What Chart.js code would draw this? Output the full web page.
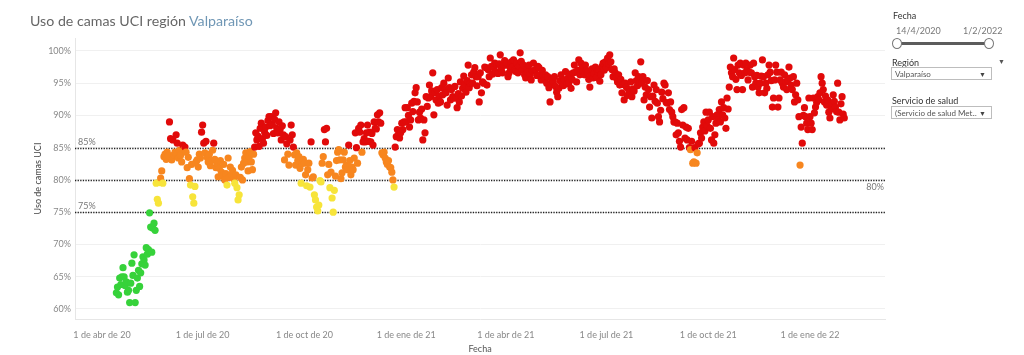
<!DOCTYPE html>
<html>
<head>
<meta charset="utf-8">
<script src="https://cdn.jsdelivr.net/npm/chart.js@4.4.0/dist/chart.umd.min.js"></script>
<style>
  html, body { margin: 0; padding: 0; background: #fff; }
  body { width: 1024px; height: 355px; position: relative; overflow: hidden; font-family: Lato, 'Open Sans', sans-serif; }
  #wrap { position: absolute; left: 0; top: 0; width: 1024px; height: 355px; }
  .title { position: absolute; left: 30px; top: 12px; font-size: 14.2px; color: #666; white-space: nowrap; }
  .title span { color: #7097b5; }
  .lbl { position: absolute; font-size: 9px; line-height: 11px; color: #333; white-space: nowrap; }
  .muted { color: #777; }
  .track { position: absolute; left: 897px; top: 42px; width: 91px; height: 3px; background: #5c5c5c; }
  .knob { position: absolute; top: 38px; width: 8px; height: 9px; border: 1px solid #777; border-radius: 50%; background: #fff; }
  .box { position: absolute; left: 891px; width: 101px; height: 13px; border: 1px solid #bdbdbd; font-size: 8px; line-height: 12px; color: #555; padding-left: 3px; box-sizing: border-box; white-space: nowrap; overflow: hidden; }
  .box i { position: absolute; right: 5px; top: 0; font-style: normal; font-size: 7px; color: #444; background: #fff; padding-left: 2px; }
</style>
</head>
<body>
<div id="wrap"><canvas id="ucsChart"></canvas></div>

<div class="title">Uso de camas UCI región <span>Valparaíso</span></div>

<div class="lbl" style="left:893px; top:10px;">Fecha</div>
<div class="lbl muted" style="left:896px; top:25px;">14/4/2020</div>
<div class="lbl muted" style="left:963px; top:25px;">1/2/2022</div>
<div class="track"></div>
<div class="knob" style="left:892px;"></div>
<div class="knob" style="left:984px;"></div>

<div class="lbl" style="left:892px; top:57px;">Región</div>
<div class="lbl" style="left:998px; top:56px; font-size:7px; color:#555;">▼</div>
<div class="box" style="top:67px;">Valparaíso<i>▼</i></div>

<div class="lbl" style="left:892px; top:95px;">Servicio de salud</div>
<div class="box" style="top:106px;">(Servicio de salud Met...<i>▼</i></div>

<script>
// ICU bed occupancy (%), one value per day, grouped by month
const abr20 = [62.5, 63.4, 62.2, 64.8, 63.8, 65.0, 66.4, 65.0, 63.6, 64.2, 62.6, 62.9, 61.0, 64.0, 67.1, 65.2, 68.4];
const may20 = [61.0, 62.9, 64.8, 66.0, 63.5, 65.6, 67.0, 68.1, 67.6, 66.8, 69.5, 68.5, 69.2, 74.9, 72.7, 68.8, 72.5, 73.3, 72.2, 79.5, 77.0, 76.4, 79.6, 80.3, 81.4, 79.5, 83.6, 84.0, 83.2, 84.3, 83.8];
const jun20 = [89.0, 86.4, 83.1, 86.2, 83.9, 84.3, 87.0, 85.7, 83.4, 84.6, 83.8, 82.8, 85.4, 84.7, 85.1, 84.3, 81.9, 83.5, 80.2, 79.2, 82.4, 77.4, 76.4, 79.0, 82.8, 83.1, 82.0, 84.0, 83.4, 87.4];
const jul20 = [88.5, 85.7, 84.2, 86.0, 83.5, 82.8, 84.0, 82.2, 83.0, 84.6, 85.7, 83.2, 81.9, 82.6, 80.5, 81.8, 83.0, 81.2, 80.6, 82.4, 80.0, 81.0, 79.2, 83.4, 80.4, 82.0, 80.8, 81.5, 80.2, 79.5, 80.8];
const ago20 = [78.8, 76.9, 77.7, 80.4, 82.0, 80.0, 82.6, 83.4, 84.2, 82.8, 81.4, 83.6, 84.4, 82.8, 81.6, 84.0, 85.1, 87.3, 86.2, 86.8, 85.2, 88.0, 88.8, 86.4, 85.7, 87.4, 88.2, 86.9, 89.2, 89.8, 88.4];
const sep20 = [89.8, 88.6, 87.2, 89.4, 90.4, 88.0, 87.3, 89.0, 87.8, 86.2, 88.4, 87.0, 83.1, 86.7, 85.6, 84.0, 82.3, 86.2, 88.5, 87.0, 85.1, 83.9, 82.3, 84.2, 83.0, 83.6, 81.8, 79.5, 82.6, 83.2];
const oct20 = [82.6, 80.8, 79.1, 81.6, 82.6, 78.9, 85.9, 80.3, 80.5, 77.7, 76.9, 75.8, 75.2, 76.1, 79.9, 79.7, 82.6, 83.6, 87.8, 85.9, 88.0, 80.8, 82.4, 78.8, 81.2, 77.2, 75.0, 78.4, 80.6, 83.0, 84.3];
const nov20 = [84.7, 83.1, 80.2, 81.1, 83.1, 84.3, 82.0, 82.3, 81.6, 85.4, 83.0, 80.8, 82.0, 81.6, 83.4, 87.3, 85.0, 82.6, 88.0, 87.4, 88.5, 84.3, 85.9, 86.4, 85.9, 87.3, 88.5, 86.0, 87.4, 85.9];
const dic20 = [87.2, 85.4, 89.0, 88.0, 87.9, 90.1, 89.0, 90.4, 88.8, 84.2, 83.9, 84.3, 83.4, 82.8, 82.4, 83.0, 82.0, 81.9, 81.2, 80.0, 78.9, 85.1, 86.7, 87.8, 87.0, 86.5, 87.3, 88.8, 87.8, 89.0, 91.2];
const ene21 = [89.0, 91.2, 90.0, 88.2, 89.3, 91.9, 90.6, 92.2, 93.5, 94.3, 92.1, 89.3, 90.5, 89.6, 91.0, 86.2, 89.3, 87.3, 92.9, 91.4, 92.7, 94.7, 92.9, 93.8, 96.6, 90.1, 93.5, 92.4, 94.0, 91.9, 93.0];
const feb21 = [92.1, 94.3, 93.2, 95.0, 94.0, 93.5, 91.6, 95.8, 94.3, 92.4, 94.0, 92.9, 92.7, 94.5, 92.7, 91.2, 93.4, 92.1, 95.2, 93.0, 94.2, 96.1, 94.8, 93.6, 95.4, 97.8, 94.3, 95.0];
const mar21 = [96.3, 95.0, 96.7, 97.4, 96.0, 94.6, 96.0, 92.1, 96.6, 93.5, 95.2, 95.0, 97.5, 97.4, 94.7, 97.1, 96.0, 98.9, 97.6, 96.4, 97.4, 98.1, 96.8, 97.9, 96.5, 98.0, 99.4, 97.2, 96.6, 97.8, 98.5];
const abr21 = [97.8, 98.1, 96.0, 96.6, 97.4, 98.3, 97.5, 98.6, 97.0, 96.8, 98.1, 96.6, 97.6, 99.7, 98.4, 97.0, 97.8, 96.3, 95.8, 97.2, 96.7, 97.8, 96.4, 95.5, 96.9, 98.1, 97.0, 97.1, 96.2, 97.6];
const may21 = [97.4, 96.3, 95.5, 97.0, 96.2, 95.8, 96.3, 95.0, 96.0, 94.3, 92.1, 94.8, 95.6, 95.2, 96.0, 94.5, 93.6, 92.9, 94.2, 95.4, 96.3, 95.0, 94.6, 95.5, 96.8, 94.9, 95.8, 95.0, 96.4, 94.2, 95.6];
const jun21 = [96.6, 97.8, 96.7, 95.2, 97.0, 98.6, 96.3, 98.1, 97.4, 96.8, 96.3, 97.8, 97.0, 96.7, 95.6, 94.4, 96.2, 97.2, 95.8, 96.5, 97.5, 95.9, 96.8, 97.1, 95.3, 96.3, 97.6, 98.1, 97.0, 98.3];
const jul21 = [97.4, 98.9, 98.0, 99.4, 98.3, 97.1, 96.0, 97.2, 96.6, 95.8, 95.2, 96.3, 94.7, 95.6, 93.5, 94.8, 92.4, 95.0, 94.4, 93.1, 94.0, 93.6, 95.2, 92.9, 94.1, 93.8, 96.6, 95.4, 94.6, 96.0, 95.1];
const ago21 = [98.3, 95.0, 96.0, 92.4, 94.4, 93.2, 95.4, 94.0, 91.3, 92.9, 89.6, 93.0, 94.7, 92.2, 94.0, 91.9, 89.8, 89.0, 90.8, 93.6, 92.6, 95.0, 94.7, 92.0, 91.9, 93.5, 90.9, 92.1, 90.5, 89.8, 89.0];
const sep21 = [89.0, 87.0, 88.8, 87.3, 86.0, 85.1, 90.9, 88.5, 91.2, 86.5, 88.2, 86.2, 88.0, 85.0, 84.7, 86.0, 82.6, 82.8, 85.0, 82.6, 84.2, 85.6, 85.7, 87.3, 86.5, 88.2, 89.0, 87.6, 90.5, 88.4];
const oct21 = [89.3, 90.5, 88.0, 86.2, 89.8, 85.7, 87.0, 88.8, 90.1, 89.3, 90.9, 89.0, 92.1, 90.1, 91.2, 89.6, 88.0, 92.7, 91.0, 94.4, 97.5, 96.6, 96.0, 98.9, 97.1, 95.6, 94.0, 97.8, 96.6, 98.1, 96.2];
const nov21 = [94.0, 97.8, 96.6, 98.1, 97.0, 95.5, 96.7, 97.8, 96.6, 94.4, 98.1, 96.0, 95.0, 96.2, 94.4, 93.5, 95.0, 96.1, 98.6, 96.0, 93.5, 95.0, 94.2, 96.3, 97.8, 96.7, 95.4, 91.3, 92.7, 95.5];
const dic21 = [97.8, 96.7, 91.3, 92.7, 95.5, 96.7, 95.0, 94.4, 96.3, 95.2, 94.0, 95.5, 97.5, 95.8, 94.7, 94.0, 96.0, 92.1, 93.2, 95.0, 92.4, 89.8, 82.3, 88.2, 85.7, 90.0, 91.2, 89.8, 88.8, 87.8, 92.7];
const ene22 = [89.8, 88.8, 87.8, 92.7, 90.4, 91.3, 92.0, 92.9, 92.4, 93.5, 96.0, 95.0, 94.0, 92.1, 93.0, 91.6, 92.4, 90.5, 89.6, 91.0, 91.9, 93.2, 92.2, 91.3, 90.6, 95.0, 90.5, 89.3, 91.8, 92.9, 90.2];
const feb22 = [89.6];

// first date of each monthly block above
const blockStarts = ['2020-04-14', '2020-05-01', '2020-06-01', '2020-07-01', '2020-08-01', '2020-09-01',
  '2020-10-01', '2020-11-01', '2020-12-01', '2021-01-01', '2021-02-01', '2021-03-01', '2021-04-01',
  '2021-05-01', '2021-06-01', '2021-07-01', '2021-08-01', '2021-09-01', '2021-10-01', '2021-11-01',
  '2021-12-01', '2022-01-01', '2022-02-01'];
const blocks = [abr20, may20, jun20, jul20, ago20, sep20, oct20, nov20, dic20, ene21, feb21, mar21, abr21,
  may21, jun21, jul21, ago21, sep21, oct21, nov21, dic21, ene22, feb22];

// axis ticks
const tickDates = ['2020-04-01', '2020-07-01', '2020-10-01', '2021-01-01', '2021-04-01', '2021-07-01', '2021-10-01', '2022-01-01'];
const tickLabels = ['1 de abr de 20', '1 de jul de 20', '1 de oct de 20', '1 de ene de 21', '1 de abr de 21', '1 de jul de 21', '1 de oct de 21', '1 de ene de 22'];
const yTicks = [60, 65, 70, 75, 80, 85, 90, 95, 100];
const refLines = [85, 80, 75];

const DAY = 86400000;
const origin = Date.UTC(2020, 3, 1);
function dayOf(s) {
  const [y, m, d] = s.split('-').map(Number);
  return Math.round((Date.UTC(y, m - 1, d) - origin) / DAY);
}
const tickDays = tickDates.map(dayOf);

const points = [];
blocks.forEach((vals, i) => {
  const d0 = dayOf(blockStarts[i]);
  vals.forEach((v, k) => points.push({ x: d0 + k, y: v }));
});

function colorFor(v) {
  if (v < 75) return '#36d23a';
  if (v < 80) return '#f7e43a';
  if (v < 85) return '#f7861f';
  return '#e10a0a';
}

// dotted reference lines + their labels
const refLinePlugin = {
  id: 'refLines',
  beforeDatasetsDraw(chart) {
    const { ctx, chartArea: a, scales: { y } } = chart;
    ctx.save();
    ctx.strokeStyle = '#222';
    ctx.lineWidth = 1.3;
    ctx.setLineDash([1.3, 1.3]);
    refLines.forEach(v => {
      const py = Math.round(y.getPixelForValue(v)) + 0.5;
      ctx.beginPath();
      ctx.moveTo(a.left, py);
      ctx.lineTo(a.right, py);
      ctx.stroke();
    });
    ctx.setLineDash([]);
    ctx.fillStyle = '#777';
    ctx.font = '9px Lato, "Open Sans", sans-serif';
    refLines.forEach(v => {
      const py = y.getPixelForValue(v);
      if (v === 80) {
        ctx.textAlign = 'right';
        ctx.fillText(v + '%', a.right - 1, py + 10);
      } else {
        ctx.textAlign = 'left';
        ctx.fillText(v + '%', a.left + 3, py - 3);
      }
    });
    ctx.restore();
  }
};

Chart.defaults.font.family = 'Lato, "Open Sans", sans-serif';

const ctx = document.getElementById('ucsChart').getContext('2d');
const chart = new Chart(ctx, {
  type: 'scatter',
  data: {
    datasets: [{
      label: 'Uso de camas UCI',
      data: points,
      backgroundColor: points.map(p => colorFor(p.y)),
      borderWidth: 0,
      pointRadius: 3.6,
      pointHoverRadius: 3.6
    }]
  },
  options: {
    responsive: true,
    maintainAspectRatio: false,
    animation: false,
    events: [],
    layout: { padding: { left: 29, right: 139, top: 38, bottom: 0 } },
    plugins: { legend: { display: false }, tooltip: { enabled: false } },
    scales: {
      x: {
        type: 'linear',
        min: -24.4,
        max: 707.8,
        afterFit(scale) { scale.height = 36; },
        afterBuildTicks(scale) { scale.ticks = tickDays.map(v => ({ value: v })); },
        grid: { display: false },
        border: { display: true, color: '#e6e6e6' },
        ticks: {
          autoSkip: false, maxRotation: 0, padding: 3,
          color: '#888', font: { size: 9 },
          callback: v => tickLabels[tickDays.indexOf(v)]
        },
        title: { display: true, text: 'Fecha', color: '#555', font: { size: 9 }, padding: { top: 0, bottom: 1 } }
      },
      y: {
        min: 58.45,
        max: 102,
        afterFit(scale) { scale.width = 46; },
        afterBuildTicks(scale) { scale.ticks = yTicks.map(v => ({ value: v })); },
        grid: { color: '#f0f0f0', drawTicks: false },
        border: { display: true, color: '#e6e6e6' },
        ticks: { padding: 4, color: '#888', font: { size: 9 }, callback: v => v + '%' },
        title: { display: true, text: 'Uso de camas UCI', color: '#444', font: { size: 9 } }
      }
    }
  },
  plugins: [refLinePlugin]
});
</script>
</body>
</html>
